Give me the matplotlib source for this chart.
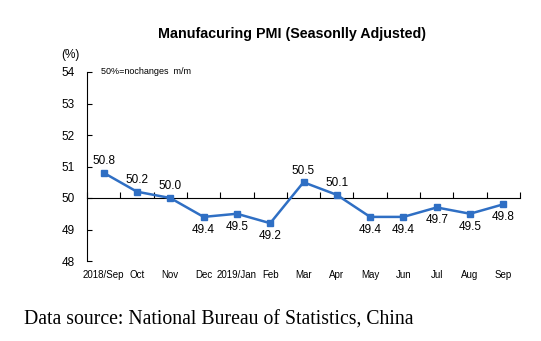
import matplotlib
matplotlib.use("Agg")
import matplotlib.pyplot as plt
import numpy as np

categories = ["2018/Sep", "Oct", "Nov", "Dec", "2019/Jan", "Feb", "Mar",
              "Apr", "May", "Jun", "Jul", "Aug", "Sep"]
values = [50.8, 50.2, 50.0, 49.4, 49.5, 49.2, 50.5, 50.1, 49.4, 49.4, 49.7, 49.5, 49.8]
y_ticks = [48, 49, 50, 51, 52, 53, 54]

LINE = "#2F6FC4"

plt.rcParams['font.family'] = ['Liberation Sans', 'DejaVu Sans']

fig = plt.figure(figsize=(5.41, 3.41), dpi=100)
ax = fig.add_axes([87/541, 80/341, 433/541, 189/341])

x = np.arange(len(categories))
ax.plot(x, values, color=LINE, lw=1.8, marker='s', ms=4, zorder=3)

ax.set_xlim(-0.5, len(categories) - 0.5)
ax.set_ylim(48, 54)
ax.set_yticks(y_ticks)
ax.set_yticklabels([str(v) for v in y_ticks], fontsize=8.5)
ax.tick_params(axis='y', direction='in', length=3.5, width=0.8, pad=9, color='black')

for s in ['top', 'right']:
    ax.spines[s].set_visible(False)
ax.spines['left'].set_linewidth(0.8)
ax.spines['bottom'].set_position(('data', 50))
ax.spines['bottom'].set_linewidth(0.8)

ax.set_xticks(x)
ax.set_xticklabels(categories, fontsize=7, fontstretch='condensed')
ax.tick_params(axis='x', which='major', length=0, pad=52)
ax.set_xticks(np.arange(len(categories) + 1) - 0.5, minor=True)
ax.tick_params(axis='x', which='minor', direction='in', length=4, width=0.8)

for xi, v in zip(x, values):
    if v >= 50:
        ax.annotate(f"{v:.1f}", (xi, v), xytext=(0, 4), textcoords='offset points',
                    ha='center', va='bottom', fontsize=8.5)
    else:
        ax.annotate(f"{v:.1f}", (xi, v), xytext=(0, -5), textcoords='offset points',
                    ha='center', va='top', fontsize=8.5)

fig.text(292/541, 1 - 34/341, "Manufacuring PMI (Seasonlly Adjusted)", ha='center',
         va='center', fontsize=10.3, fontweight='bold')
fig.text(70/541, 1 - 55/341, "(%)", ha='center', va='center', fontsize=8.5)
fig.text(101/541, 1 - 71/341, "50%=nochanges  m/m", ha='left', va='center', fontsize=6.5)
fig.text(24/541, 1 - 320/341, "Data source: National Bureau of Statistics, China",
         ha='left', va='center', fontsize=14.2, family='Liberation Serif')

fig.savefig("out.png", dpi=100)
